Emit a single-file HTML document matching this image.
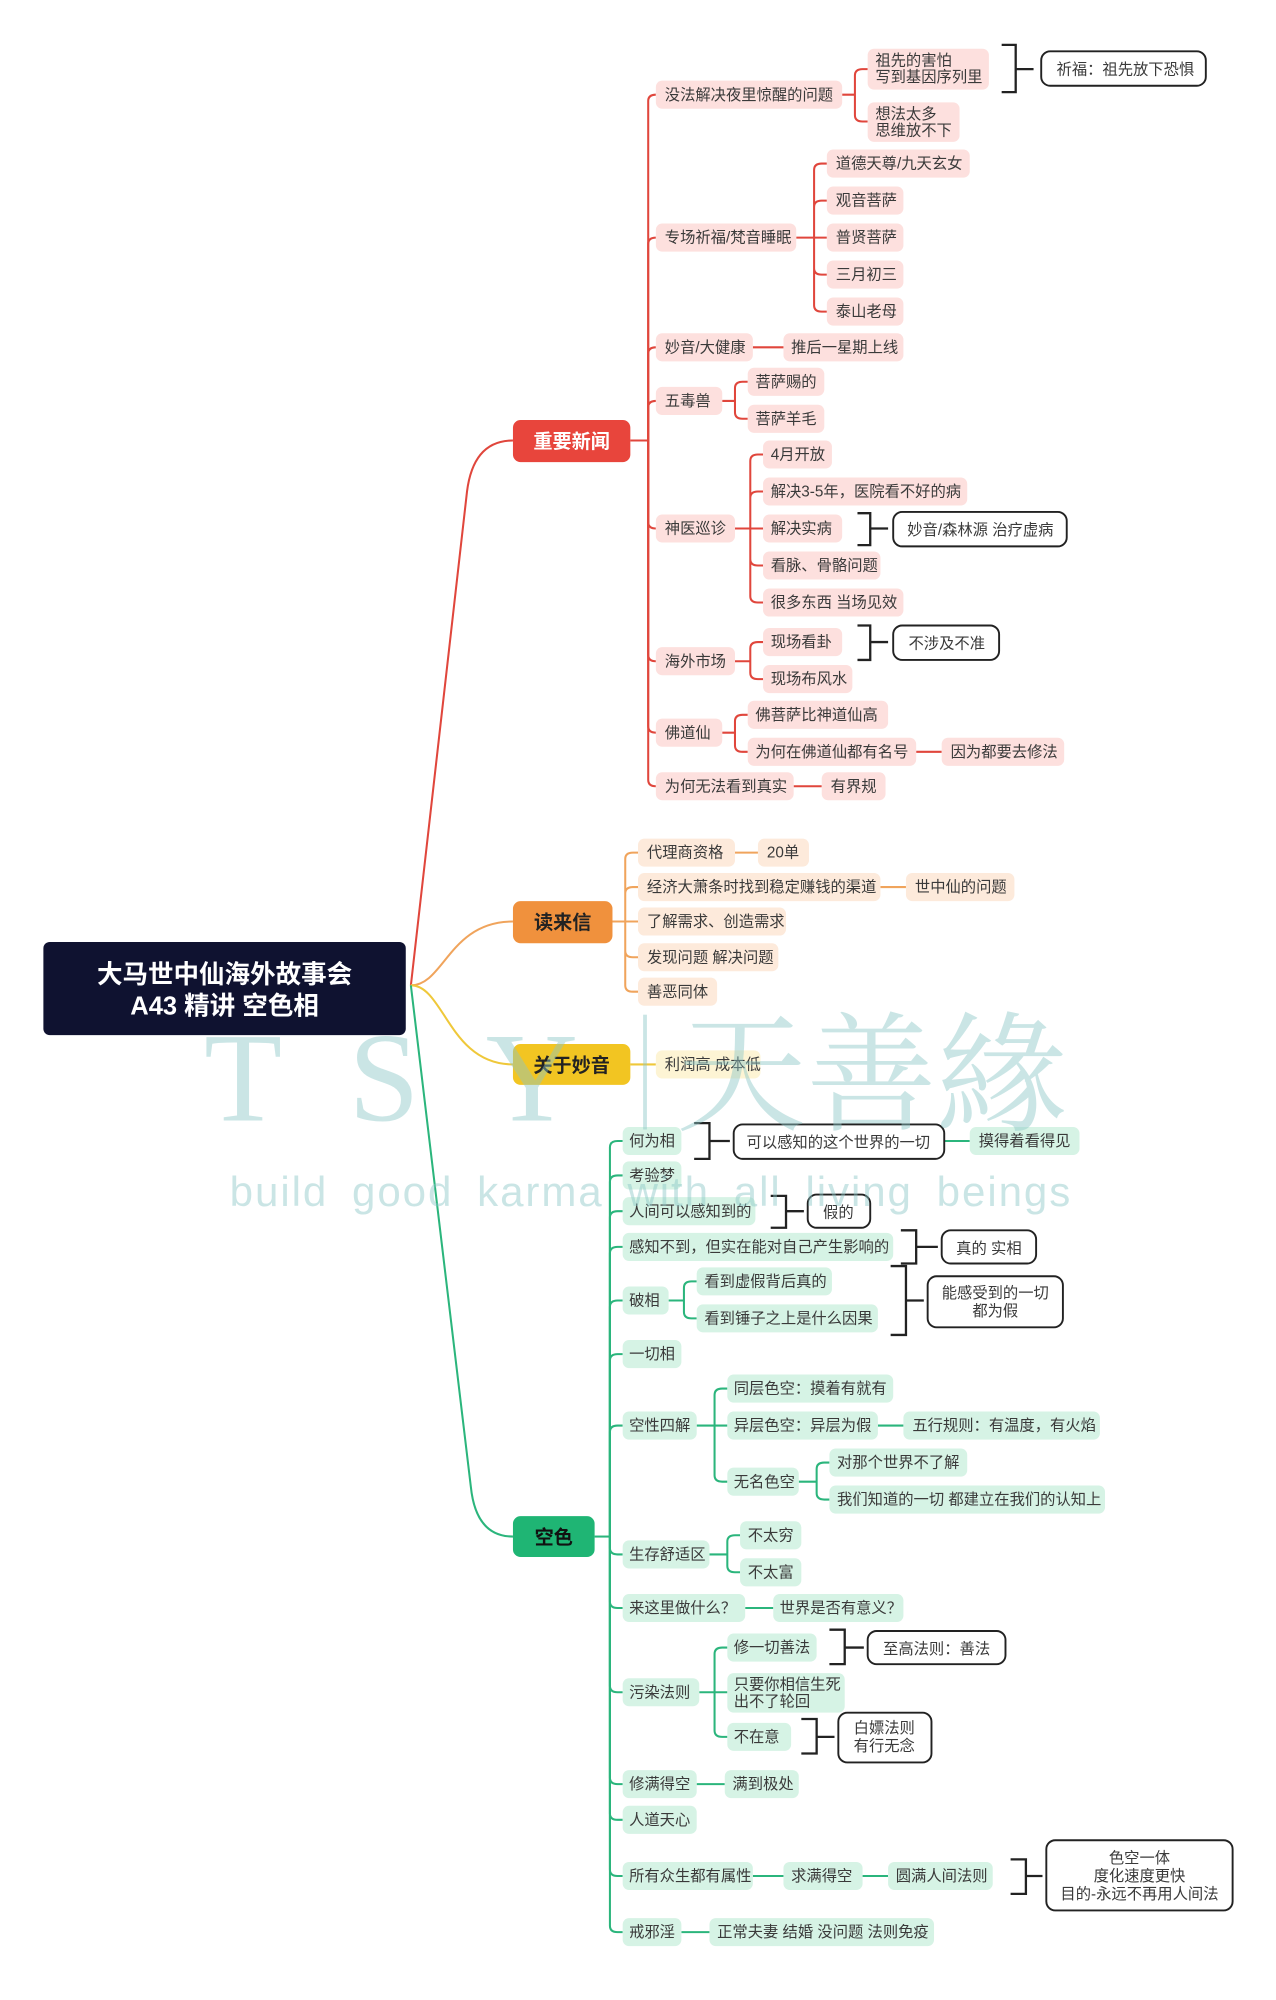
<!DOCTYPE html>
<html><head><meta charset="utf-8">
<style>
html,body{margin:0;padding:0;background:#fff;width:1276px;height:2000px;overflow:hidden}
svg{display:block}
text{font-family:"Liberation Sans","Noto Sans CJK SC",sans-serif;font-size:12px;fill:#3a3a3a}
.r rect{fill:#fde0de}
.o rect{fill:#fdeadb}
.y rect{fill:#fdf4d4}
.g rect{fill:#d6f3e5}
.ln{fill:none;stroke-width:1.6}
.rl{stroke:#e0463c}.ol{stroke:#f0a45c}.yl{stroke:#efc83a}.gl{stroke:#2bb57c}
.bx rect{fill:#fff;stroke:#222;stroke-width:1.5}
.br{fill:none;stroke:#222;stroke-width:1.8}
.main text{fill:#fff;font-weight:bold;font-size:15px}
</style></head><body>
<svg width="1276" height="2000" viewBox="0 0 1000 1567" xmlns="http://www.w3.org/2000/svg">

<!-- main connectors -->
<path class="ln rl" d="M322,772 L366,385 Q371,345 402,345"/>
<path class="ln ol" d="M322,772 C348,772 352,722 402,722"/>
<path class="ln yl" d="M322,772 C348,772 352,834 402,834"/>
<path class="ln gl" d="M322,772 L369,1165 Q373,1204 402,1204"/>

<!-- root -->
<rect x="34" y="738" width="284" height="73" rx="5" fill="#0f1230"/>
<text x="176" y="770" text-anchor="middle" style="fill:#fff;font-size:20px;font-weight:bold">大马世中仙海外故事会</text>
<text x="176" y="795" text-anchor="middle" style="fill:#fff;font-size:20px;font-weight:bold">A43 精讲 空色相</text>

<!-- RED -->
<g class="ln rl">
<path d="M494,345 H508"/>
<path d="M508,345 V79 Q508,74 514,74"/>
<path d="M508,345 V191 Q508,186 514,186"/>
<path d="M508,345 V277 Q508,272 514,272"/>
<path d="M508,345 V319 Q508,314 514,314"/>
<path d="M508,345 V409 Q508,414 514,414"/>
<path d="M508,345 V513 Q508,518 514,518"/>
<path d="M508,345 V569 Q508,574 514,574"/>
<path d="M508,345 V611 Q508,616 514,616"/>
<path d="M660,74 H670 M670,74 V59 Q670,54 676,54 H680 M670,74 V90 Q670,95 676,95 H680"/>
<path d="M624,186 H638 M638,186 V133 Q638,128 644,128 H648 M638,186 V162 Q638,157 644,157 H648 M638,186 H648 M638,186 V210 Q638,215 644,215 H648 M638,186 V239 Q638,244 644,244 H648"/>
<path d="M590,272 H614"/>
<path d="M566,314 H576 M576,314 V304 Q576,299 582,299 H586 M576,314 V323 Q576,328 582,328 H586"/>
<path d="M576,414 H588 M588,414 V361 Q588,356 594,356 H598 M588,414 V390 Q588,385 594,385 H598 M588,414 H598 M588,414 V438 Q588,443 594,443 H598 M588,414 V467 Q588,472 594,472 H598"/>
<path d="M576,518 H588 M588,518 V508 Q588,503 594,503 H598 M588,518 V527 Q588,532 594,532 H598"/>
<path d="M566,574 H576 M576,574 V565 Q576,560 582,560 H586 M576,574 V584 Q576,589 582,589 H586"/>
<path d="M718,589 H738"/>
<path d="M622,616 H644"/>
</g>
<rect x="402" y="329" width="92" height="33" rx="6" fill="#e8453c"/>
<text x="448" y="351" text-anchor="middle" style="fill:#fff;font-weight:bold;font-size:15px">重要新闻</text>

<g class="r">
<rect x="514" y="63" width="146" height="22" rx="5"/><text x="521" y="78">没法解决夜里惊醒的问题</text>
<rect x="680" y="38" width="95" height="32" rx="5"/><text x="686" y="51">祖先的害怕</text><text x="686" y="64">写到基因序列里</text>
<rect x="680" y="80" width="72" height="31" rx="5"/><text x="686" y="93">想法太多</text><text x="686" y="106">思维放不下</text>
<rect x="514" y="175" width="110" height="22" rx="5"/><text x="521" y="190">专场祈福/梵音睡眠</text>
<rect x="648" y="117" width="112" height="22" rx="5"/><text x="655" y="132">道德天尊/九天玄女</text>
<rect x="648" y="146" width="60" height="22" rx="5"/><text x="655" y="161">观音菩萨</text>
<rect x="648" y="175" width="60" height="22" rx="5"/><text x="655" y="190">普贤菩萨</text>
<rect x="648" y="204" width="60" height="22" rx="5"/><text x="655" y="219">三月初三</text>
<rect x="648" y="233" width="60" height="22" rx="5"/><text x="655" y="248">泰山老母</text>
<rect x="514" y="261" width="76" height="22" rx="5"/><text x="521" y="276">妙音/大健康</text>
<rect x="614" y="261" width="94" height="22" rx="5"/><text x="620" y="276">推后一星期上线</text>
<rect x="514" y="303" width="52" height="22" rx="5"/><text x="521" y="318">五毒兽</text>
<rect x="586" y="288" width="60" height="22" rx="5"/><text x="592" y="303">菩萨赐的</text>
<rect x="586" y="317" width="60" height="22" rx="5"/><text x="592" y="332">菩萨羊毛</text>
<rect x="514" y="403" width="62" height="22" rx="5"/><text x="521" y="418">神医巡诊</text>
<rect x="598" y="345" width="54" height="22" rx="5"/><text x="604" y="360">4月开放</text>
<rect x="598" y="374" width="160" height="22" rx="5"/><text x="604" y="389">解决3-5年，医院看不好的病</text>
<rect x="598" y="403" width="62" height="22" rx="5"/><text x="604" y="418">解决实病</text>
<rect x="598" y="432" width="92" height="22" rx="5"/><text x="604" y="447">看脉、骨骼问题</text>
<rect x="598" y="461" width="110" height="22" rx="5"/><text x="604" y="476">很多东西 当场见效</text>
<rect x="514" y="507" width="62" height="22" rx="5"/><text x="521" y="522">海外市场</text>
<rect x="598" y="492" width="62" height="22" rx="5"/><text x="604" y="507">现场看卦</text>
<rect x="598" y="521" width="70" height="22" rx="5"/><text x="604" y="536">现场布风水</text>
<rect x="514" y="563" width="52" height="22" rx="5"/><text x="521" y="578">佛道仙</text>
<rect x="586" y="549" width="110" height="22" rx="5"/><text x="592" y="564">佛菩萨比神道仙高</text>
<rect x="586" y="578" width="132" height="22" rx="5"/><text x="592" y="593">为何在佛道仙都有名号</text>
<rect x="738" y="578" width="96" height="22" rx="5"/><text x="745" y="593">因为都要去修法</text>
<rect x="514" y="605" width="108" height="22" rx="5"/><text x="521" y="620">为何无法看到真实</text>
<rect x="644" y="605" width="50" height="22" rx="5"/><text x="651" y="620">有界规</text>
</g>
<path class="br" d="M785,35 H796 V72 H785 M796,54 H810"/>
<g class="bx"><rect x="816" y="40" width="129" height="27" rx="7"/></g><text x="828" y="58">祈福：祖先放下恐惧</text>
<path class="br" d="M672,402 H682 V427 H672 M682,414 H696"/>
<g class="bx"><rect x="700" y="401" width="136" height="27" rx="7"/></g><text x="711" y="419">妙音/森林源 治疗虚病</text>
<path class="br" d="M672,490 H682 V517 H672 M682,503 H696"/>
<g class="bx"><rect x="700" y="490" width="83" height="27" rx="7"/></g><text x="712" y="508">不涉及不准</text>

<!-- ORANGE -->
<g class="ln ol">
<path d="M480,722 H490 M490,722 V673 Q490,668 496,668 H500 M490,722 V700 Q490,695 496,695 H500 M490,722 H500 M490,722 V745 Q490,750 496,750 H500 M490,722 V772 Q490,777 496,777 H500"/>
<path d="M576,668 H594 M690,695 H710"/>
</g>
<rect x="402" y="706" width="78" height="33" rx="6" fill="#f0913d"/>
<text x="441" y="728" text-anchor="middle" style="fill:#222;font-weight:bold;font-size:15px">读来信</text>
<g class="o">
<rect x="500" y="657" width="76" height="22" rx="5"/><text x="507" y="672">代理商资格</text>
<rect x="594" y="657" width="40" height="22" rx="5"/><text x="601" y="672">20单</text>
<rect x="500" y="684" width="190" height="22" rx="5"/><text x="507" y="699">经济大萧条时找到稳定赚钱的渠道</text>
<rect x="710" y="684" width="85" height="22" rx="5"/><text x="717" y="699">世中仙的问题</text>
<rect x="500" y="711" width="116" height="22" rx="5"/><text x="507" y="726">了解需求、创造需求</text>
<rect x="500" y="739" width="110" height="22" rx="5"/><text x="507" y="754">发现问题 解决问题</text>
<rect x="500" y="766" width="62" height="22" rx="5"/><text x="507" y="781">善恶同体</text>
</g>

<!-- YELLOW -->
<path class="ln yl" d="M494,834 H514"/>
<rect x="402" y="818" width="92" height="32" rx="6" fill="#f2c522"/>
<text x="448" y="840" text-anchor="middle" style="fill:#222;font-weight:bold;font-size:15px">关于妙音</text>
<g class="y"><rect x="514" y="823" width="82" height="22" rx="5"/><text x="521" y="838">利润高 成本低</text></g>

<!-- GREEN -->
<g class="ln gl">
<path d="M466,1204 H478"/>
<path d="M478,1204 V899 Q478,894 484,894 H488"/>
<path d="M478,1204 V926 Q478,921 484,921 H488"/>
<path d="M478,1204 V954 Q478,949 484,949 H488"/>
<path d="M478,1204 V982 Q478,977 484,977 H488"/>
<path d="M478,1204 V1024 Q478,1019 484,1019 H488"/>
<path d="M478,1204 V1066 Q478,1061 484,1061 H488"/>
<path d="M478,1204 V1122 Q478,1117 484,1117 H488"/>
<path d="M478,1204 V1213 Q478,1218 484,1218 H488"/>
<path d="M478,1204 V1255 Q478,1260 484,1260 H488"/>
<path d="M478,1204 V1321 Q478,1326 484,1326 H488"/>
<path d="M478,1204 V1393 Q478,1398 484,1398 H488"/>
<path d="M478,1204 V1421 Q478,1426 484,1426 H488"/>
<path d="M478,1204 V1465 Q478,1470 484,1470 H488"/>
<path d="M478,1204 V1509 Q478,1514 484,1514 H488"/>
<path d="M740,894 H760"/>
<path d="M524,1019 H536 M536,1019 V1009 Q536,1004 542,1004 H546 M536,1019 V1028 Q536,1033 542,1033 H546"/>
<path d="M546,1117 H560 M560,1117 V1093 Q560,1088 566,1088 H570 M560,1117 H570 M560,1117 V1156 Q560,1161 566,1161 H570"/>
<path d="M688,1117 H708"/>
<path d="M626,1161 H640 M640,1161 V1151 Q640,1146 646,1146 H650 M640,1161 V1170 Q640,1175 646,1175 H650"/>
<path d="M556,1218 H570 M570,1218 V1208 Q570,1203 576,1203 H580 M570,1218 V1227 Q570,1232 576,1232 H580"/>
<path d="M584,1260 H606"/>
<path d="M548,1326 H560 M560,1326 V1296 Q560,1291 566,1291 H570 M560,1326 H570 M560,1326 V1356 Q560,1361 566,1361 H570"/>
<path d="M546,1398 H568"/>
<path d="M590,1470 H614 M676,1470 H696"/>
<path d="M534,1514 H556"/>
</g>
<rect x="402" y="1188" width="64" height="32" rx="6" fill="#1fb574"/>
<text x="434" y="1210" text-anchor="middle" style="fill:#111;font-weight:bold;font-size:15px">空色</text>
<g class="g">
<rect x="488" y="883" width="46" height="22" rx="5"/><text x="493" y="898">何为相</text>
<rect x="760" y="883" width="86" height="22" rx="5"/><text x="767" y="898">摸得着看得见</text>
<rect x="488" y="910" width="46" height="22" rx="5"/><text x="493" y="925">考验梦</text>
<rect x="488" y="938" width="104" height="22" rx="5"/><text x="493" y="953">人间可以感知到的</text>
<rect x="488" y="966" width="212" height="22" rx="5"/><text x="493" y="981">感知不到，但实在能对自己产生影响的</text>
<rect x="488" y="1008" width="36" height="22" rx="5"/><text x="493" y="1023">破相</text>
<rect x="546" y="993" width="106" height="22" rx="5"/><text x="552" y="1008">看到虚假背后真的</text>
<rect x="546" y="1022" width="142" height="22" rx="5"/><text x="552" y="1037">看到锤子之上是什么因果</text>
<rect x="488" y="1050" width="46" height="22" rx="5"/><text x="493" y="1065">一切相</text>
<rect x="488" y="1106" width="58" height="22" rx="5"/><text x="493" y="1121">空性四解</text>
<rect x="570" y="1077" width="130" height="22" rx="5"/><text x="575" y="1092">同层色空：摸着有就有</text>
<rect x="570" y="1106" width="118" height="22" rx="5"/><text x="575" y="1121">异层色空：异层为假</text>
<rect x="708" y="1106" width="154" height="22" rx="5"/><text x="715" y="1121">五行规则：有温度，有火焰</text>
<rect x="570" y="1150" width="56" height="22" rx="5"/><text x="575" y="1165">无名色空</text>
<rect x="650" y="1135" width="108" height="22" rx="5"/><text x="656" y="1150">对那个世界不了解</text>
<rect x="650" y="1164" width="216" height="22" rx="5"/><text x="656" y="1179">我们知道的一切 都建立在我们的认知上</text>
<rect x="488" y="1207" width="68" height="22" rx="5"/><text x="493" y="1222">生存舒适区</text>
<rect x="580" y="1192" width="48" height="22" rx="5"/><text x="586" y="1207">不太穷</text>
<rect x="580" y="1221" width="48" height="22" rx="5"/><text x="586" y="1236">不太富</text>
<rect x="488" y="1249" width="96" height="22" rx="5"/><text x="493" y="1264">来这里做什么？</text>
<rect x="606" y="1249" width="102" height="22" rx="5"/><text x="611" y="1264">世界是否有意义？</text>
<rect x="488" y="1315" width="60" height="22" rx="5"/><text x="493" y="1330">污染法则</text>
<rect x="570" y="1280" width="70" height="22" rx="5"/><text x="575" y="1295">修一切善法</text>
<rect x="570" y="1311" width="92" height="31" rx="5"/><text x="575" y="1324">只要你相信生死</text><text x="575" y="1337">出不了轮回</text>
<rect x="570" y="1350" width="50" height="22" rx="5"/><text x="575" y="1365">不在意</text>
<rect x="488" y="1387" width="58" height="22" rx="5"/><text x="493" y="1402">修满得空</text>
<rect x="568" y="1387" width="58" height="22" rx="5"/><text x="574" y="1402">满到极处</text>
<rect x="488" y="1415" width="58" height="22" rx="5"/><text x="493" y="1430">人道天心</text>
<rect x="488" y="1459" width="102" height="22" rx="5"/><text x="493" y="1474">所有众生都有属性</text>
<rect x="614" y="1459" width="62" height="22" rx="5"/><text x="620" y="1474">求满得空</text>
<rect x="696" y="1459" width="82" height="22" rx="5"/><text x="702" y="1474">圆满人间法则</text>
<rect x="488" y="1503" width="46" height="22" rx="5"/><text x="493" y="1518">戒邪淫</text>
<rect x="556" y="1503" width="176" height="22" rx="5"/><text x="562" y="1518">正常夫妻 结婚 没问题 法则免疫</text>
</g>
<g class="br">
<path d="M544,880 H556 V908 H544 M556,894 H572"/>
<path d="M604,937 H616 V962 H604 M616,949 H630"/>
<path d="M706,964 H718 V990 H706 M718,977 H735"/>
<path d="M698,992 H710 V1046 H698 M710,1019 H724"/>
<path d="M650,1277 H662 V1304 H650 M662,1291 H677"/>
<path d="M628,1347 H640 V1374 H628 M640,1361 H654"/>
<path d="M792,1457 H804 V1484 H792 M804,1470 H817"/>
</g>
<g class="bx">
<rect x="575" y="881" width="165" height="27" rx="7"/>
<rect x="633" y="936" width="49" height="26" rx="7"/>
<rect x="738" y="964" width="74" height="26" rx="7"/>
<rect x="727" y="1000" width="106" height="40" rx="7"/>
<rect x="680" y="1278" width="108" height="26" rx="7"/>
<rect x="657" y="1342" width="73" height="39" rx="7"/>
<rect x="820" y="1442" width="146" height="55" rx="7"/>
</g>
<text x="657" y="899" text-anchor="middle">可以感知的这个世界的一切</text>
<text x="657" y="954" text-anchor="middle">假的</text>
<text x="775" y="982" text-anchor="middle">真的 实相</text>
<text x="780" y="1017" text-anchor="middle">能感受到的一切</text>
<text x="780" y="1031" text-anchor="middle">都为假</text>
<text x="734" y="1296" text-anchor="middle">至高法则：善法</text>
<text x="693" y="1358" text-anchor="middle">白嫖法则</text>
<text x="693" y="1372" text-anchor="middle">有行无念</text>
<text x="893" y="1460" text-anchor="middle">色空一体</text>
<text x="893" y="1474" text-anchor="middle">度化速度更快</text>
<text x="893" y="1488" text-anchor="middle">目的-永远不再用人间法</text>

<!-- watermark -->
<g opacity="0.45">
<text x="160" y="878" style="font-family:'Liberation Serif',serif;font-size:100px;fill:#8cc7c7;letter-spacing:52px">TSY</text>
<rect x="504" y="795" width="3" height="90" fill="#8cc7c7"/>
<text x="530" y="878" style="font-family:'Noto Serif CJK SC','Noto Sans CJK SC',serif;font-size:102px;fill:#8cc7c7">天善緣</text>
<text x="180" y="945" style="font-family:'Liberation Sans',sans-serif;font-size:33px;fill:#8cc7c7;letter-spacing:1.5px;word-spacing:8px">build good karma with all living beings</text>
</g>
</svg>
</body></html>
